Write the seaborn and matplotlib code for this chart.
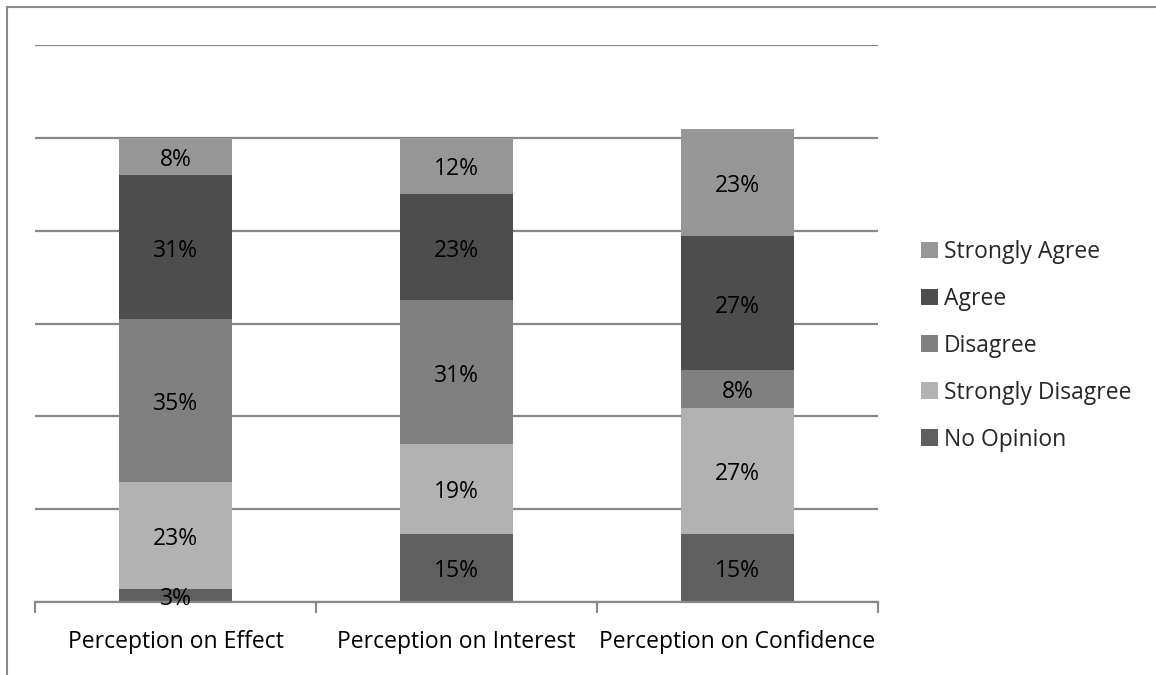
import matplotlib
matplotlib.use("Agg")
import matplotlib.pyplot as plt
import matplotlib.transforms as mtransforms
import seaborn as sns
import numpy as np
import pandas as pd
from matplotlib.patches import Patch, Rectangle

categories = ["Perception on Effect", "Perception on Interest", "Perception on Confidence"]
series = ["No Opinion", "Strongly Disagree", "Disagree", "Agree", "Strongly Agree"]
no_opinion = [2.8, 14.7, 14.7]
strongly_disagree = [23.1, 19.4, 27.2]
disagree = [35.0, 30.9, 8.0]
agree = [31.1, 22.9, 28.9]
strongly_agree = [8.0, 12.1, 23.1]
labels_no_opinion = ["3%", "15%", "15%"]
labels_strongly_disagree = ["23%", "19%", "27%"]
labels_disagree = ["35%", "31%", "8%"]
labels_agree = ["31%", "23%", "27%"]
labels_strongly_agree = ["8%", "12%", "23%"]

colors = {"No Opinion": "#5f5f5f", "Strongly Disagree": "#b2b2b2", "Disagree": "#808080",
          "Agree": "#4d4d4d", "Strongly Agree": "#969696"}

sns.set_theme(style="white")
plt.rcParams['font.family'] = ['Open Sans', 'DejaVu Sans']

vals = [no_opinion, strongly_disagree, disagree, agree, strongly_agree]
labs = [labels_no_opinion, labels_strongly_disagree, labels_disagree, labels_agree, labels_strongly_agree]
cum = np.cumsum(np.array(vals), axis=0)

FS = 16.5
fig = plt.figure(figsize=(11.56, 6.75), dpi=100)
fig.patches.append(Rectangle((7/1156, -0.1), 1.2, (675-7)/675 + 0.1, transform=fig.transFigure,
                             fill=False, edgecolor="#8a8a8a", linewidth=1.5))
ax = fig.add_axes([35/1156, 73/675, 843/1156, 557/675])

# draw from top (largest cumulative) down so lower segments overlay
for i in range(len(series) - 1, -1, -1):
    df = pd.DataFrame({"cat": categories, "top": cum[i]})
    sns.barplot(data=df, x="cat", y="top", color=colors[series[i]], saturation=1,
                width=0.4, ax=ax, edgecolor="none", linewidth=0, zorder=2)

shift = mtransforms.ScaledTranslation(0, -3.5/100, fig.dpi_scale_trans)
for i in range(len(series)):
    bottoms = cum[i] - np.array(vals[i])
    for j in range(len(categories)):
        ax.text(j, bottoms[j] + vals[i][j] / 2, labs[i][j], ha="center", va="center",
                fontsize=FS, color="black", zorder=5, transform=ax.transData + shift)

ax.set_ylim(0, 120)
ax.set_xlim(-0.5, 2.5)
ax.set_yticks([0, 20, 40, 60, 80, 100, 120])
ax.yaxis.grid(True, color="#888888", linewidth=1.6)
ax.set_axisbelow(True)
ax.set_yticklabels([])
ax.tick_params(axis="y", length=0)
ax.set_xlabel("")
ax.set_ylabel("")
for s in ["top", "right", "left"]:
    ax.spines[s].set_visible(False)
ax.spines["bottom"].set_color("#888888")
ax.spines["bottom"].set_linewidth(1.6)
ax.set_xticks([-0.5, 0.5, 1.5, 2.5], minor=True)
ax.tick_params(axis="x", which="minor", bottom=True, length=8, width=1.5, color="#888888", direction="out")
ax.tick_params(axis="x", which="major", bottom=False, length=0, labelsize=FS, pad=20.5, labelcolor="black")

handles = [Patch(facecolor=colors[s], edgecolor="none", label=s) for s in series[::-1]]
fig.legend(handles=handles, loc="upper left", bbox_to_anchor=(921/1156, 1 - 240/675),
           frameon=False, fontsize=FS, handlelength=0.75, handleheight=0.75,
           handletextpad=0.25, labelspacing=1.0, borderaxespad=0, borderpad=0)

fig.savefig("out.png", dpi=100)
